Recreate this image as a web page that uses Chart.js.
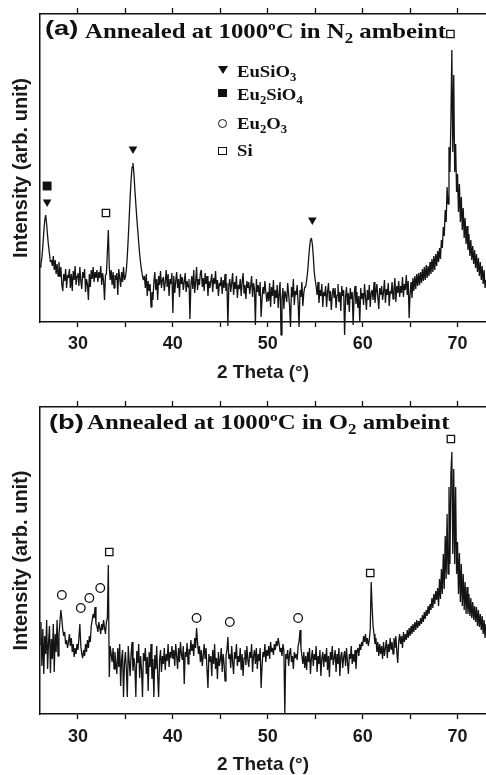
<!DOCTYPE html>
<html>
<head>
<meta charset="utf-8">
<script src="https://cdn.jsdelivr.net/npm/chart.js@4.4.1/dist/chart.umd.min.js"></script>
<style>
    body { margin: 0; width: 486px; height: 775px; overflow: hidden; background: #fff; position: relative; }
    canvas { position: absolute; left: 0; }
    #chartN2 { top: 0; }
    #chartO2 { top: 390px; }
    .txt { position: absolute; white-space: nowrap; line-height: 1; color: #111; transform-origin: 0 0; }
    .lbl { font: bold 21px "Liberation Sans", Arial, sans-serif; transform: scaleX(1.3); }
    .ser { font: bold 21px "Liberation Serif", "Times New Roman", serif; transform: scaleX(1.18); }
    .leg { font: bold 17px "Liberation Serif", "Times New Roman", serif; transform: scaleX(1.1); }
    sub { font-size: 0.68em; vertical-align: -0.32em; line-height: 0; }
    sup { font-size: 0.62em; vertical-align: 0.6em; line-height: 0; }
    .mk { position: absolute; box-sizing: border-box; }
    .tri { width: 0; height: 0; border-left: 5px solid transparent; border-right: 5px solid transparent; border-top: 8px solid #111; }
    .sq { width: 9px; height: 8px; background: #111; }
    .osq { width: 9px; height: 8px; border: 1.3px solid #111; background: #fff; }
    .circ { width: 9px; height: 9px; border: 1.3px solid #111; border-radius: 50%; }
</style>
</head>
<body>
<canvas id="chartN2" width="486" height="390"></canvas>
<canvas id="chartO2" width="486" height="387"></canvas>

<div class="txt lbl" style="left:45px;top:15.5px">(a)</div>
<div class="txt ser" style="left:85px;top:19px">Annealed at 1000<sup>o</sup>C in N<sub>2</sub> ambeint</div>

<div class="mk tri" style="left:218px;top:66px"></div>
<div class="txt leg" style="left:237px;top:62px">EuSiO<sub>3</sub></div>
<div class="mk sq" style="left:218px;top:89px"></div>
<div class="txt leg" style="left:237px;top:85px">Eu<sub>2</sub>SiO<sub>4</sub></div>
<div class="mk circ" style="left:218px;top:119px"></div>
<div class="txt leg" style="left:237px;top:114px">Eu<sub>2</sub>O<sub>3</sub></div>
<div class="mk osq" style="left:218px;top:147px"></div>
<div class="txt leg" style="left:237px;top:141px">Si</div>

<div class="txt lbl" style="left:49px;top:409.5px">(b)</div>
<div class="txt ser" style="left:87px;top:409.5px">Annealed at 1000<sup>o</sup>C in O<sub>2</sub> ambeint</div>

<script>
// scan grid: 2 theta from 26 to 73 in 0.1 degree steps
const thetaStart = 26;
const thetaStep = 0.1;

// intensity (arb. unit), one row per degree
const intensityN2 = [
    55, 58, 64, 76, 90, 102, 107, 98, 86, 76,      // 26
    68, 60, 62, 56, 66, 52, 62, 48, 58, 46,        // 27
    60, 45, 55, 37, 31, 48, 41, 53, 34, 47,        // 28
    44, 53, 34, 48, 31, 51, 42, 56, 37, 46,        // 29
    49, 36, 55, 41, 33, 50, 44, 53, 30, 43,        // 30
    38, 22, 48, 35, 52, 43, 55, 40, 50, 44,        // 31
    52, 40, 50, 44, 56, 37, 49, 41, 22, 47,        // 32
    48, 70, 92, 55, 42, 52, 37, 50, 34, 47,        // 33
    42, 49, 27, 53, 44, 35, 50, 40, 55, 42,        // 34
    45, 52, 66, 84, 104, 125, 142, 155, 159, 148,  // 35
    132, 118, 104, 92, 80, 68, 59, 52, 46, 42,     // 36
    46, 34, 48, 26, 41, 31, 38, 15, 30, 22,        // 37
    40, 50, 32, 43, 22, 46, 37, 51, 34, 42,        // 38
    45, 31, 40, 52, 35, 48, 26, 43, 38, 49,        // 39
    9, 46, 29, 41, 50, 34, 43, 25, 48, 38,         // 40
    45, 32, 40, 49, 30, 41, 35, 43, 3, 37,         // 41
    46, 33, 52, 29, 40, 55, 32, 43, 37, 49,        // 42
    52, 35, 44, 31, 49, 38, 46, 26, 41, 34,        // 43
    41, 48, 30, 44, 38, 51, 33, 42, 26, 39,        // 44
    36, 45, 28, 42, 34, 48, 31, 39, -4, 37,        // 45
    43, 30, 39, 49, 27, 40, 33, 46, 24, 37,        // 46
    33, 43, 26, 40, 49, 29, 37, 23, 41, 34,        // 47
    40, 28, 36, 46, 25, 39, 33, -3, 43, 30,        // 48
    37, 26, 40, 5, 23, 35, 28, 41, 30, 20,         // 49
    30, 21, 39, 15, 35, 26, 42, 18, 32, 24,        // 50
    37, 14, 29, 40, -13, 23, 34, 13, 31, 27,       // 51
    20, 39, 28, 16, -5, 35, 25, 43, 17, 31,        // 52
    27, 37, 19, -5, 32, 25, 40, 16, 29, 35,        // 53
    35, 42, 50, 62, 74, 82, 84, 78, 66, 50,        // 54
    42, 36, 27, 40, 19, 32, 26, 38, 15, 30,        // 55
    26, 36, 15, 30, 39, 21, 31, 12, 28, 34,        // 56
    24, 34, 14, 27, 38, 20, 30, 11, 36, 26,        // 57
    32, -13, 25, 35, 17, 29, 10, 34, 23, 30,       // 58
    -3, 27, 36, 18, 30, 14, 26, 0, 34, 23,         // 59
    29, 17, 38, 25, 12, 32, 22, 37, 15, 29,        // 60
    32, 22, 40, 19, 29, 38, 25, 13, 34, 27,        // 61
    36, 22, 30, 42, 19, 33, 27, 39, 16, 31,        // 62
    28, 40, 23, 33, 44, 20, 36, 29, 41, 25,        // 63
    36, 29, 45, 25, 38, 32, 47, 27, 41, 4,         // 64
    28, 40, 24, 44, 31, 46, 33, 48, 36, 49,        // 65
    37, 50, 39, 53, 41, 55, 42, 57, 44, 56,        // 66
    46, 60, 48, 63, 50, 66, 52, 68, 56, 71,        // 67
    60, 74, 63, 82, 74, 95, 86, 112, 100, 135,     // 68
    118, 175, 150, 200, 272, 170, 247, 150, 178, 130, // 69
    148, 110, 138, 100, 125, 92, 114, 84, 104, 78, // 70
    96, 72, 88, 66, 82, 62, 76, 58, 72, 54,        // 71
    68, 50, 64, 46, 60, 42, 56, 38, 52, 34,        // 72
    42                                             // 73
];

const intensityO2 = [
    70, 92, 48, 85, 40, 78, 60, 94, 45, 72,        // 26
    88, 41, 75, 55, 90, 42, 80, 62, 94, 58,        // 27
    80, 92, 104, 95, 84, 78, 82, 70, 74, 66,       // 28
    72, 80, 68, 76, 62, 70, 57, 66, 60, 70,        // 29
    64, 76, 90, 68, 60, 56, 64, 58, 70, 62,        // 30
    74, 66, 78, 72, 88, 94, 100, 96, 107, 90,      // 31
    88, 82, 92, 86, 80, 90, 84, 94, 86, 80,        // 32
    92, 96, 149, 37, 68, 60, 52, 66, 45, 62,       // 33
    50, 40, 66, 47, 70, 28, 55, 64, 17, 50,        // 34
    62, 45, 17, 68, 52, 38, 60, 72, 43, 56,        // 35
    48, 17, 63, 51, 70, 36, 58, 44, 17, 61,        // 36
    53, 66, 40, 57, 23, 62, 47, 70, 35, 55,        // 37
    17, 59, 45, 68, 38, 17, 54, 64, 42, 58,        // 38
    50, 66, 44, 60, 53, 70, 47, 62, 56, 68,        // 39
    55, 64, 48, 70, 58, 45, 66, 52, 72, 60,        // 40
    54, 68, 30, 62, 57, 71, 50, 65, 59, 74,        // 41
    63, 70, 58, 76, 66, 86, 72, 60, 68, 52,        // 42
    64, 48, 58, 70, 55, 66, 44, 26, 60, 52,        // 43
    58, 38, 64, 50, 70, 45, 56, 35, 62, 48,        // 44
    54, 66, 42, 60, 50, 33, 58, 64, 77, 55,        // 45
    60, 46, 68, 52, 40, 62, 55, 70, 48, 58,        // 46
    52, 66, 44, 60, 38, 56, 64, 49, 68, 54,        // 47
    47, 62, 56, 70, 42, 58, 64, 50, 66, 45,        // 48
    60, 53, 66, 26, 48, 62, 57, 70, 52, 64,        // 49
    58, 68, 55, 72, 62, 66, 59, 70, 64, 73,        // 50
    68, 76, 70, 62, 66, 58, 70, 64, 0, 60,         // 51
    55, 64, 48, 60, 66, 52, 58, 45, 62, 56,        // 52
    60, 54, 68, 72, 84, 66, 58, 50, 62, 46,        // 53
    58, 44, 62, 52, 66, 40, 56, 64, 48, 60,        // 54
    54, 68, 42, 58, 50, 64, 38, 56, 62, 47,        // 55
    60, 52, 66, 44, 58, 37, 62, 54, 68, 49,        // 56
    56, 64, 42, 60, 50, 66, 38, 58, 62, 46,        // 57
    57, 63, 48, 66, 52, 40, 60, 55, 68, 50,        // 58
    60, 52, 64, 45, 62, 66, 58, 70, 64, 72,        // 59
    68, 78, 72, 80, 70, 76, 68, 74, 84, 132,       // 60
    107, 88, 80, 70, 76, 62, 72, 58, 70, 60,       // 61
    68, 55, 72, 58, 66, 74, 56, 70, 62, 76,        // 62
    64, 72, 60, 76, 66, 78, 62, 51, 72, 80,        // 63
    70, 78, 66, 82, 72, 80, 74, 84, 76, 86,        // 64
    78, 88, 80, 90, 82, 92, 84, 94, 86, 93,        // 65
    88, 96, 90, 99, 92, 102, 95, 104, 98, 108,     // 66
    100, 110, 104, 116, 106, 120, 110, 123, 114, 126, // 67
    108, 135, 115, 145, 120, 160, 125, 178, 135, 200, // 68
    140, 227, 150, 240, 262, 160, 245, 150, 227, 140, // 69
    172, 120, 161, 112, 150, 108, 140, 104, 132, 100, // 70
    127, 100, 120, 98, 116, 96, 112, 94, 108, 92,  // 71
    107, 88, 104, 87, 100, 84, 98, 80, 94, 76,     // 72
    90                                             // 73
];

const xTickLabels = [30, 40, 50, 60, 70];

// phase markers above the peaks: 2 theta and height
const euSiO3Theta = [26.75, 35.8, 54.7];
const euSiO3Height = [120, 173, 102];
const eu2SiO4Theta = [26.75];
const eu2SiO4Height = [136];
const siThetaN2 = [32.95, 69.25];
const siHeightN2 = [109, 288];
const eu2O3Theta = [28.3, 30.3, 31.2, 32.35, 42.5, 46.0, 53.2];
const eu2O3Height = [119, 106, 116, 126, 96, 92, 96];
const siThetaO2 = [33.3, 60.8, 69.3];
const siHeightO2 = [162, 141, 275];

const sansBold = (size) => ({ family: '"Liberation Sans", Arial, sans-serif', size: size, weight: 'bold' });

function scanPoints(values) {
    return values.map((v, i) => ({ x: Math.round((thetaStart + i * thetaStep) * 10) / 10, y: v }));
}

function markerPoints(thetas, heights) {
    return thetas.map((t, i) => ({ x: t, y: heights[i] }));
}

function makeChart(id, scan, markers, cfg) {
    const datasets = [{
        type: 'line',
        data: scanPoints(scan),
        borderColor: '#141414',
        borderWidth: 1.3,
        borderJoinStyle: 'bevel',
        pointRadius: 0,
        tension: 0,
        clip: false,
        order: 2
    }];
    markers.forEach(m => {
        datasets.push({
            type: 'scatter',
            data: markerPoints(m.theta, m.height),
            pointStyle: m.style,
            rotation: m.rotation || 0,
            pointRadius: m.radius,
            backgroundColor: m.fill,
            borderColor: '#111',
            borderWidth: m.border,
            clip: false,
            order: 1
        });
    });

    return new Chart(document.getElementById(id), {
        type: 'line',
        data: { datasets: datasets },
        options: {
            responsive: false,
            animation: false,
            events: [],
            layout: { autoPadding: false, padding: { top: cfg.padTop, left: 0, right: 0, bottom: 0 } },
            plugins: { legend: { display: false }, tooltip: { enabled: false } },
            scales: {
                x: {
                    type: 'linear',
                    position: 'bottom',
                    min: 26,
                    max: 73,
                    afterFit: s => { s.height = cfg.bottomHeight; },
                    border: { color: '#111', width: 1.5 },
                    grid: { drawOnChartArea: false, drawTicks: true, tickLength: 5, color: '#111', tickWidth: 1.3 },
                    ticks: {
                        stepSize: 5,
                        includeBounds: false,
                        autoSkip: false,
                        maxRotation: 0,
                        color: '#1a1a1a',
                        padding: cfg.tickPad,
                        font: sansBold(18),
                        callback: v => xTickLabels.includes(v) ? String(v) : ''
                    },
                    title: {
                        display: true,
                        text: '2 Theta (°)',
                        color: '#1a1a1a',
                        font: sansBold(19),
                        padding: { top: 0, bottom: cfg.titlePad }
                    }
                },
                x2: {
                    type: 'linear',
                    position: 'top',
                    min: 26,
                    max: 73,
                    afterFit: s => { s.height = 6; },
                    border: { color: '#111', width: 1.5 },
                    grid: { drawOnChartArea: false, drawTicks: true, tickLength: 6, color: '#111', tickWidth: 1.3 },
                    ticks: { display: false, stepSize: 5, includeBounds: false, autoSkip: false }
                },
                y: {
                    min: 0,
                    max: cfg.yMax,
                    afterFit: s => { s.width = 40; },
                    grid: { display: false },
                    border: { display: true, color: '#111', width: 1.5 },
                    ticks: { display: false },
                    title: {
                        display: true,
                        text: 'Intensity (arb. unit)',
                        color: '#1a1a1a',
                        font: sansBold(20),
                        padding: { top: 9, bottom: 0 }
                    }
                }
            }
        }
    });
}

makeChart('chartN2', intensityN2, [
    { theta: euSiO3Theta, height: euSiO3Height, style: 'triangle', rotation: 180, radius: 5, fill: '#111', border: 0 },
    { theta: eu2SiO4Theta, height: eu2SiO4Height, style: 'rect', radius: 6.3, fill: '#111', border: 0 },
    { theta: siThetaN2, height: siHeightN2, style: 'rect', radius: 5.2, fill: '#fff', border: 1.3 }
], { padTop: 8, bottomHeight: 68, tickPad: 6, titlePad: 6, yMax: 308 });

makeChart('chartO2', intensityO2, [
    { theta: eu2O3Theta, height: eu2O3Height, style: 'circle', radius: 4.3, fill: '#fff', border: 1.3 },
    { theta: siThetaO2, height: siHeightO2, style: 'rect', radius: 5.2, fill: '#fff', border: 1.3 }
], { padTop: 11, bottomHeight: 63, tickPad: 7, titlePad: 1, yMax: 307 });
</script>
</body>
</html>
